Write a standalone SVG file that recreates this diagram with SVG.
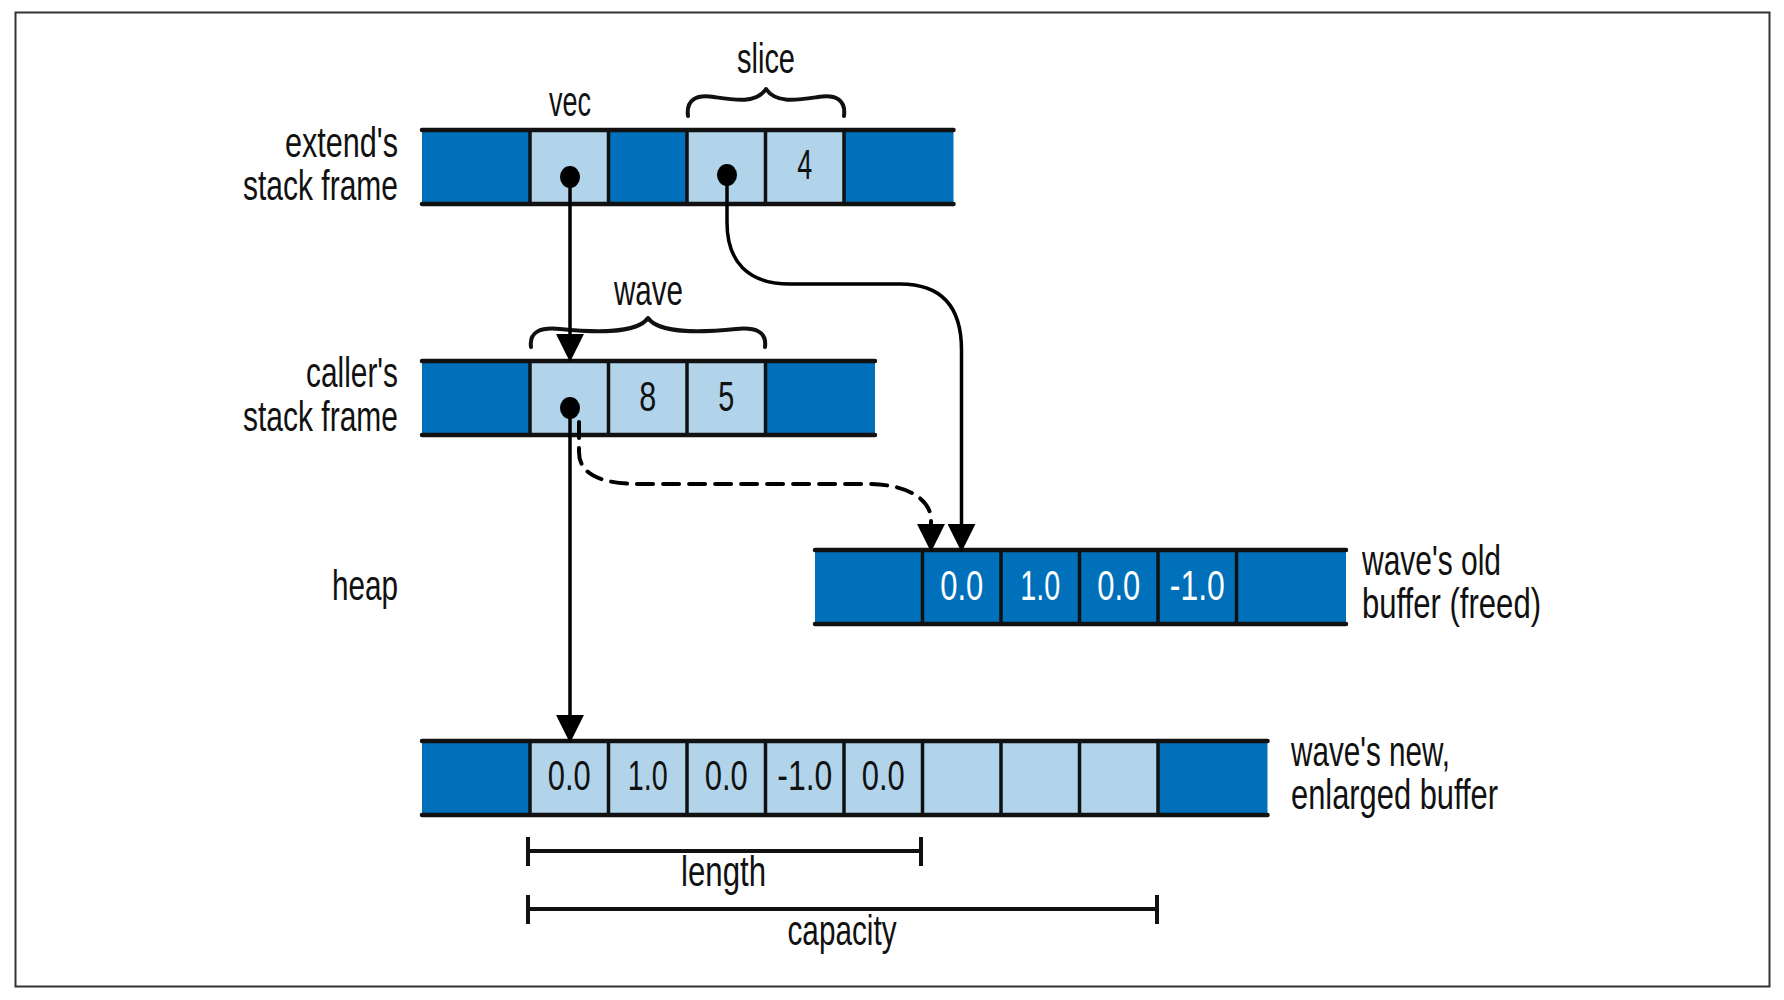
<svg xmlns="http://www.w3.org/2000/svg" width="1784" height="1000" viewBox="0 0 1784 1000">
<style>
text{font-family:"Liberation Sans Narrow","Liberation Sans",Arial,sans-serif;font-size:42px;fill:#111;}
.w{fill:#fff;}
.dark{fill:#0070bb;}
.light{fill:#b2d4ea;}
.rail{stroke:#111;stroke-width:4.5;fill:none;stroke-linecap:round;}
.div{stroke:#111;stroke-width:3.5;fill:none;}
.con{stroke:#000;stroke-width:3.5;fill:none;}
.dash{stroke:#000;stroke-width:4;fill:none;stroke-dasharray:16 10;stroke-linecap:round;}
.brace{stroke:#111;stroke-width:4;fill:none;stroke-linecap:round;stroke-linejoin:round;}
.dim{stroke:#111;stroke-width:4;fill:none;}
</style>
<defs>
<marker id="ah" markerUnits="userSpaceOnUse" markerWidth="28" markerHeight="28" viewBox="0 0 26 26" refX="14" refY="13" orient="auto">
<path d="M0,0 L26,13 L0,26 z" fill="#000"/>
</marker>
</defs>
<rect x="15.5" y="12.5" width="1754" height="974" fill="#fff" stroke="#333" stroke-width="2"/>

<g id="labels">
<text x="285" y="157" textLength="113" lengthAdjust="spacingAndGlyphs">extend's</text>
<text x="243" y="200" textLength="155" lengthAdjust="spacingAndGlyphs">stack frame</text>
<text x="306" y="387" textLength="92" lengthAdjust="spacingAndGlyphs">caller's</text>
<text x="243" y="431" textLength="155" lengthAdjust="spacingAndGlyphs">stack frame</text>
<text x="332" y="600" textLength="66" lengthAdjust="spacingAndGlyphs">heap</text>
</g>

<g id="extend-frame">
<rect class="dark" x="422" y="130" width="531.5" height="74"/>
<rect class="light" x="530" y="130" width="78.5" height="74"/>
<rect class="light" x="687" y="130" width="157" height="74"/>
<path class="div" d="M530,130V204M608.5,130V204M687,130V204M765.5,130V204M844,130V204"/>
<path class="rail" d="M422,130H953.5M422,204H953.5"/>
<text x="804.75" y="179" text-anchor="middle" textLength="15" lengthAdjust="spacingAndGlyphs">4</text>
<ellipse cx="570" cy="177" rx="10" ry="11" fill="#000"/>
<ellipse cx="727" cy="175" rx="10" ry="11" fill="#000"/>
</g>

<g id="vec-label">
<text x="570" y="116" text-anchor="middle" textLength="42" lengthAdjust="spacingAndGlyphs">vec</text>
</g>
<g id="slice-label">
<path class="brace" d="M688,116 C686,100 696,94 714,97 C734,100 756,104 766,89 C776,104 798,100 818,97 C836,94 846,100 844,116"/>
<text x="766" y="73" text-anchor="middle" textLength="58" lengthAdjust="spacingAndGlyphs">slice</text>
</g>

<g id="caller-frame">
<rect class="dark" x="422" y="361" width="453" height="74"/>
<rect class="light" x="530" y="361" width="235.5" height="74"/>
<path class="div" d="M530,361V435M608.5,361V435M687,361V435M765.5,361V435"/>
<path class="rail" d="M422,361H875M422,435H875"/>
<text x="647.75" y="411" text-anchor="middle" textLength="17" lengthAdjust="spacingAndGlyphs">8</text>
<text x="726.25" y="411" text-anchor="middle" textLength="16" lengthAdjust="spacingAndGlyphs">5</text>
<ellipse cx="570" cy="408" rx="10" ry="11" fill="#000"/>
</g>

<g id="wave-label">
<path class="brace" d="M531,347 C529,332 540,327 560,329 C590,332 636,335 648,318 C660,335 706,332 736,329 C756,327 767,332 765,347"/>
<text x="648.5" y="305" text-anchor="middle" textLength="69" lengthAdjust="spacingAndGlyphs">wave</text>
</g>

<g id="old-buffer">
<rect class="dark" x="815" y="550" width="531" height="74"/>
<path class="div" d="M922.5,550V624M1001,550V624M1079.5,550V624M1158,550V624M1236.5,550V624"/>
<path class="rail" d="M815,550H1346M815,624H1346"/>
<text class="w" x="961.75" y="600" text-anchor="middle" textLength="43" lengthAdjust="spacingAndGlyphs">0.0</text>
<text class="w" x="1040.25" y="600" text-anchor="middle" textLength="40" lengthAdjust="spacingAndGlyphs">1.0</text>
<text class="w" x="1118.75" y="600" text-anchor="middle" textLength="43" lengthAdjust="spacingAndGlyphs">0.0</text>
<text class="w" x="1197.25" y="600" text-anchor="middle" textLength="55" lengthAdjust="spacingAndGlyphs">-1.0</text>
<text x="1362" y="575" textLength="139" lengthAdjust="spacingAndGlyphs">wave's old</text>
<text x="1362" y="618" textLength="179" lengthAdjust="spacingAndGlyphs">buffer (freed)</text>
</g>

<g id="new-buffer">
<rect class="dark" x="422" y="741" width="845.5" height="74"/>
<rect class="light" x="530" y="741" width="628" height="74"/>
<path class="div" d="M530,741V815M608.5,741V815M687,741V815M765.5,741V815M844,741V815M922.5,741V815M1001,741V815M1079.5,741V815M1158,741V815"/>
<path class="rail" d="M422,741H1267.5M422,815H1267.5"/>
<text x="569.25" y="790" text-anchor="middle" textLength="43" lengthAdjust="spacingAndGlyphs">0.0</text>
<text x="647.75" y="790" text-anchor="middle" textLength="40" lengthAdjust="spacingAndGlyphs">1.0</text>
<text x="726.25" y="790" text-anchor="middle" textLength="43" lengthAdjust="spacingAndGlyphs">0.0</text>
<text x="804.75" y="790" text-anchor="middle" textLength="55" lengthAdjust="spacingAndGlyphs">-1.0</text>
<text x="883.25" y="790" text-anchor="middle" textLength="43" lengthAdjust="spacingAndGlyphs">0.0</text>
<text x="1291" y="766" textLength="159" lengthAdjust="spacingAndGlyphs">wave's new,</text>
<text x="1291" y="809" textLength="207" lengthAdjust="spacingAndGlyphs">enlarged buffer</text>
</g>

<g id="dimensions">
<path class="dim" d="M528,851H921M528,837V866M921,837V866"/>
<text x="723.5" y="886" text-anchor="middle" textLength="85" lengthAdjust="spacingAndGlyphs">length</text>
<path class="dim" d="M528,909H1157M528,895V924M1157,895V924"/>
<text x="842" y="945" text-anchor="middle" textLength="109" lengthAdjust="spacingAndGlyphs">capacity</text>
</g>

<g id="connectors">
<path class="con" d="M570,177V349" marker-end="url(#ah)"/>
<path class="con" d="M727,175V222C727,262 748,284 790,284H900C940,284 961.5,305 961.5,350V539" marker-end="url(#ah)"/>
<path class="dash" d="M579,422V452C579,474 600,484 640,484H868C905,484 931,498 931,520V539" marker-end="url(#ah)"/>
<path class="con" d="M570,408V730" marker-end="url(#ah)"/>
</g>
</svg>
